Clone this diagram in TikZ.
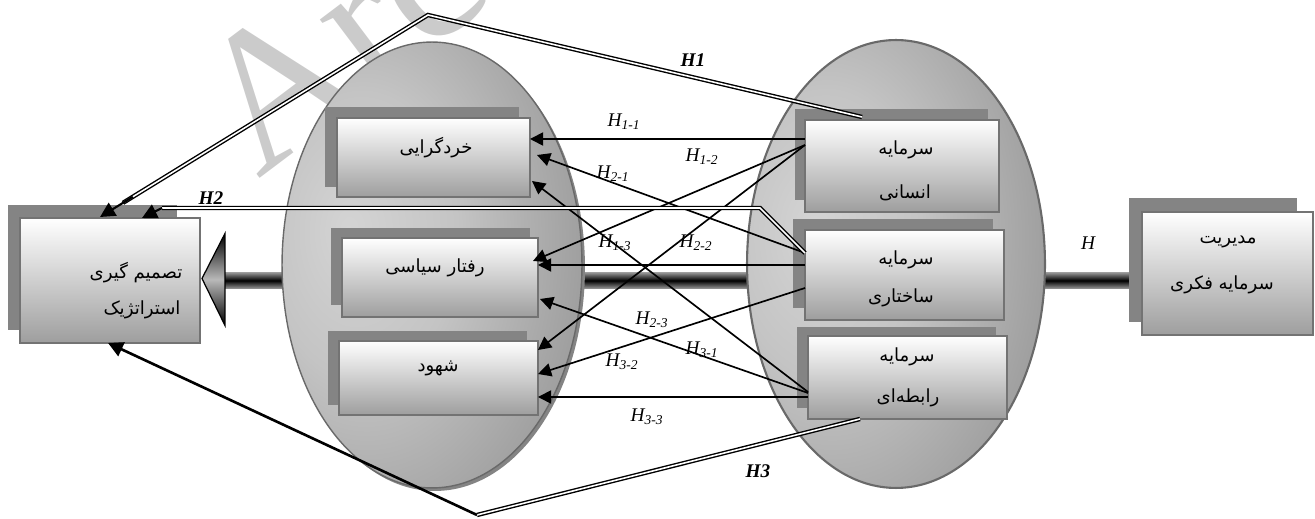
\documentclass[tikz,border=0pt]{standalone}
\usepackage{fontspec}
\setmainfont{Liberation Serif}
\newfontfamily\arabicfont[Script=Arabic]{DejaVu Sans}
\TeXXeTstate=1
\usetikzlibrary{arrows.meta,calc,shapes.geometric}
\definecolor{boxbot}{RGB}{158,158,158}
\definecolor{boxline}{RGB}{115,115,115}
\definecolor{shad}{RGB}{132,132,132}
\definecolor{wmcol}{RGB}{203,203,203}
\definecolor{ellline}{RGB}{105,105,105}
\definecolor{ellA}{RGB}{212,212,212}
\definecolor{ellB}{RGB}{196,196,196}
\definecolor{ellC}{RGB}{128,128,128}
\definecolor{shaftg}{RGB}{150,150,150}
\pgfdeclareradialshading{ellshade}{\pgfpoint{-14bp}{4bp}}{color(0bp)=(ellA); color(16bp)=(ellB); color(50bp)=(ellC); color(100bp)=(ellC)}
\pgfdeclarelayer{lwm}\pgfdeclarelayer{lshaft}\pgfdeclarelayer{lell}\pgfdeclarelayer{lshad}
\pgfsetlayers{lwm,lshaft,lell,lshad,main}
\newcommand\ar[1]{{\arabicfont\beginR #1\endR}}
\begin{document}
\begin{tikzpicture}[x=0.02cm,y=-0.02cm,
  box/.style={draw=boxline, line width=0.9pt, top color=white, bottom color=boxbot, inner sep=0pt, outer sep=0pt},
  artxt/.style={font=\fontsize{10.3}{12}\selectfont, inner sep=0pt},
  hl/.style={font=\fontsize{11}{13}\selectfont\itshape, inner sep=0pt},
  hb/.style={font=\fontsize{11}{13}\selectfont\bfseries\itshape, inner sep=0pt},
  thin/.style={draw=black, line width=0.95pt, -{Triangle[length=7.5pt,width=7.5pt]}},
  dbl/.style={draw=black, line width=0.8pt, double=white, double distance=0.9pt},
  dblsh/.style={draw=gray!75, line width=1.3pt, shift={(2,3)}},
  harrow/.style={draw=black, line width=1.2pt, -{Triangle[length=8.5pt,width=8.5pt]}},
  ellbox/.style={ellipse, shading=ellshade, inner sep=0pt, outer sep=0pt}]
\useasboundingbox (0,0) rectangle (1315,519);
\clip (0,0) rectangle (1315,519);

% ---------- boxes ----------
\node[box, minimum width=3.6cm,  minimum height=2.5cm]  (L) at (110,280.5) {};
\node[box, minimum width=3.86cm, minimum height=1.58cm] (K) at (433.5,157.5) {};
\node[box, minimum width=3.92cm, minimum height=1.58cm] (R) at (440,277.5) {};
\node[box, minimum width=3.98cm, minimum height=1.48cm] (S) at (438.5,378) {};
\node[box, minimum width=3.88cm, minimum height=1.84cm] (A) at (902,166) {};
\node[box, minimum width=3.98cm, minimum height=1.8cm]  (B) at (904.5,275) {};
\node[box, minimum width=3.98cm, minimum height=1.66cm] (C) at (907.5,377.5) {};
\node[box, minimum width=3.42cm, minimum height=2.46cm] (M) at (1227.5,273.5) {};

% ---------- box texts ----------
\node[artxt] (Lt1) at (136,273) {\ar{تصمیم گیری}};
\node[artxt] (Lt2) at (142,310) {\ar{استراتژیک}};
\node[artxt] (Kt) at (436,148) {\ar{خردگرایی}};
\node[artxt] (Rt) at (435,268) {\ar{رفتار سیاسی}};
\node[artxt] (St) at (438,368) {\ar{شهود}};
\node[artxt] (At1) at (906,150) {\ar{سرمایه}};
\node[artxt] (At2) at (905,193) {\ar{انسانی}};
\node[artxt] (Bt1) at (906,260) {\ar{سرمایه}};
\node[artxt] (Bt2) at (901,298) {\ar{ساختاری}};
\node[artxt] (Ct1) at (907,357) {\ar{سرمایه}};
\node[artxt] (Ct2) at (908,398) {\ar{رابطه‌ای}};
\node[artxt] (Mt1) at (1228,242) {\ar{مدیریت}};
\node[artxt] (Mt2) at (1222,285) {\ar{سرمایه فکری}};

% ---------- shadows of boxes ----------
\begin{pgfonlayer}{lshad}
\fill[shad] ($(L.north west)+(-12,-13)$) rectangle ($(L.south east)+(-23,-13)$);
\fill[shad] ($(K.north west)+(-12,-11)$) rectangle ($(K.south east)+(-11,-10)$);
\fill[shad] ($(R.north west)+(-11,-10)$) rectangle ($(R.south east)+(-8,-12)$);
\fill[shad] ($(S.north west)+(-11,-10)$) rectangle ($(S.south east)+(-11,-10)$);
\fill[shad] ($(A.north west)+(-10,-11)$) rectangle ($(A.south east)+(-11,-12)$);
\fill[shad] ($(B.north west)+(-12,-11)$) rectangle ($(B.south east)+(-11,-12)$);
\fill[shad] ($(C.north west)+(-11,-9)$) rectangle ($(C.south east)+(-11,-11)$);
\fill[shad] ($(M.north west)+(-13,-14)$) rectangle ($(M.south east)+(-16,-13)$);
\end{pgfonlayer}

% ---------- ellipses ----------
\begin{pgfonlayer}{lell}
\node[ellipse, fill=shad, minimum width=6cm, minimum height=8.92cm, inner sep=0pt] (E1s) at (435,268) {};
\node[ellbox, draw=ellline, line width=0.8pt, minimum width=6cm, minimum height=8.92cm] (E1) at (432,265) {};
\node[ellbox, draw=ellline, line width=1.2pt, minimum width=5.96cm, minimum height=8.96cm] (E2) at (896,264) {};
\end{pgfonlayer}

% ---------- watermark ----------
\begin{pgfonlayer}{lwm}
\node[text=wmcol, font=\fontsize{112}{112}\selectfont, rotate=37, anchor=base west, inner sep=0pt] (wm) at (258,180) {Arc};
\end{pgfonlayer}

% ---------- main thick arrow H ----------
\begin{pgfonlayer}{lshaft}
\shade[top color=shaftg, bottom color=shaftg, middle color=black] ($(L.east)+(23,-8)$) rectangle ($(M.west|-L.east)+(0,8)$);
\coordinate (tip) at ($(L.east)+(2,-2)$);
\shade[top color=black, bottom color=black, middle color=gray!55, draw=black, line width=0.7pt] (tip) -- ++(23,-45) -- ++(0,92) -- cycle;
\end{pgfonlayer}
\node[hl] (hH) at (1088,243) {H};

% ---------- thin arrows ----------
\draw[thin] (A.west|-0,139) -- (K.east|-0,139);
\draw[thin] (A.west|-0,145) -- ($(R.east|-0,261)+(-5,0)$);
\draw[thin] (A.west|-0,145) -- (S.east|-0,350);
\draw[thin] (B.west|-0,253) -- ($(K.east|-0,155)+(7,0)$);
\draw[thin] (B.west|-0,265) -- (R.east|-0,265);
\draw[thin] (C.west|-0,393) -- ($(R.east|-0,299)+(2,0)$);
\draw[thin] (B.west|-0,288) -- (S.east|-0,374);
\draw[thin] (C.west|-0,392) -- ($(K.east|-0,181)+(2,0)$);
\draw[thin] (C.west|-0,397) -- (S.east|-0,397);

% ---------- labels ----------
\node[hl] (h11) at (624,122) {H\textsubscript{1-1}};
\node[hl] (h12) at (702,157) {H\textsubscript{1-2}};
\node[hl] (h21) at (613,174) {H\textsubscript{2-1}};
\node[hl] (h13) at (615,243) {H\textsubscript{1-3}};
\node[hl] (h22) at (696,243) {H\textsubscript{2-2}};
\node[hl] (h23) at (652,320) {H\textsubscript{2-3}};
\node[hl] (h31) at (702,350) {H\textsubscript{3-1}};
\node[hl] (h32) at (622,362) {H\textsubscript{3-2}};
\node[hl] (h33) at (647,417) {H\textsubscript{3-3}};

% ---------- H1, H2, H3 connectors ----------
\coordinate (h1s) at ($(A.north west)+(57,-3)$);
\coordinate (pk1) at (428,15);
\coordinate (h1e) at ($(L.north west)+(80,-1)$);
\coordinate (h1m) at ($(pk1)!0.93!(h1e)$);
\draw[dblsh] (h1s) -- (pk1) -- (h1m);
\draw[dbl] (h1s) -- (pk1) -- (h1m);
\draw[harrow] ($(pk1)!0.9!(h1e)$) -- (h1e);

\coordinate (h2s) at (B.west|-0,253);
\coordinate (h2k) at (760,208);
\coordinate (h2m) at (162,208);
\coordinate (h2e) at ($(L.north west)+(122,0)$);
\draw[dblsh] (h2s) -- (h2k) -- (h2m);
\draw[dbl] (h2s) -- (h2k) -- (h2m);
\draw[harrow] (h2m) -- (h2e);

\coordinate (h3s) at ($(C.south west)+(52,0)$);
\coordinate (pk3) at (477,515);
\coordinate (h3e) at ($(L.south west)+(88,0)$);
\draw[dblsh] (h3s) -- (pk3);
\draw[dbl] (h3s) -- (pk3);
\draw[harrow, line width=1.5pt] (pk3) -- (h3e);

\node[hb] (lH1) at (693,60) {H1};
\node[hb] (lH2) at (211,198) {H2};
\node[hb] (lH3) at (758,471) {H3};
\end{tikzpicture}
\end{document}
